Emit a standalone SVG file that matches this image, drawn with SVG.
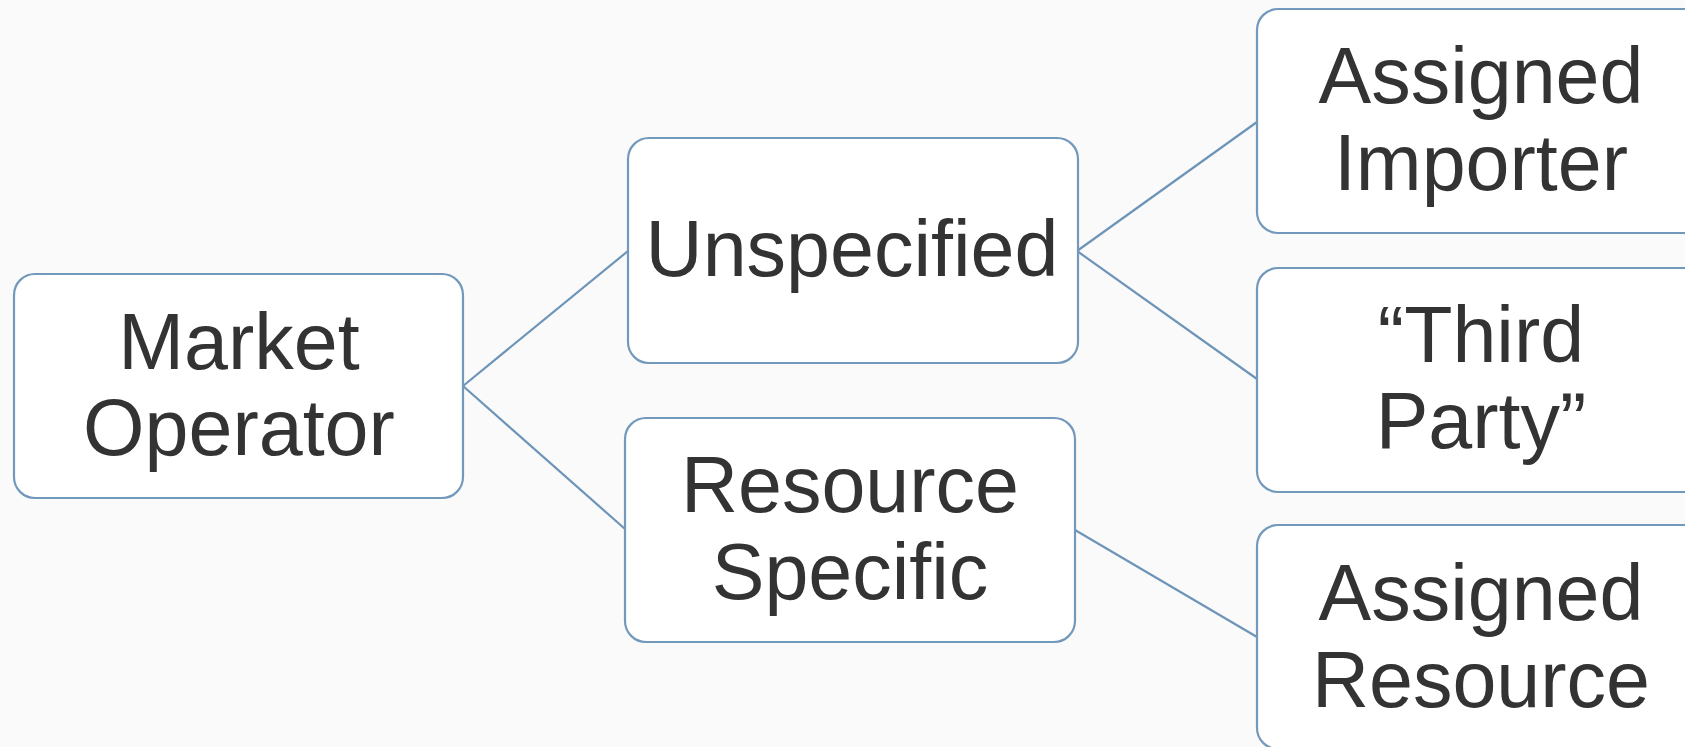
<svg xmlns="http://www.w3.org/2000/svg" width="1685" height="747" viewBox="0 0 1685 747">
<style>
.box{fill:#ffffff;stroke:#7298bc;stroke-width:2.2}
.lbl{font-family:"Liberation Sans",Arial,sans-serif;font-size:79px;fill:#333333;text-anchor:middle}
.conn{stroke:#6e94b8;stroke-width:2.2;fill:none}
</style>
<rect x="0" y="0" width="1685" height="747" fill="#fafafa"/>
<g id="connectors">
<line class="conn" x1="463" y1="386" x2="628" y2="251"/>
<line class="conn" x1="463" y1="386" x2="625" y2="529"/>
<line class="conn" x1="1077" y1="251" x2="1257" y2="122"/>
<line class="conn" x1="1077" y1="251" x2="1257" y2="379"/>
<line class="conn" x1="1075" y1="530" x2="1257" y2="637"/>
</g>
<g id="market-operator">
<rect class="box" x="14" y="274" width="449" height="224" rx="21"/>
<text class="lbl" x="239" y="369">Market</text>
<text class="lbl" x="239" y="455">Operator</text>
</g>
<g id="unspecified">
<rect class="box" x="628" y="138" width="450" height="225" rx="21"/>
<text class="lbl" x="852" y="276">Unspecified</text>
</g>
<g id="resource-specific">
<rect class="box" x="625" y="418" width="450" height="224" rx="21"/>
<text class="lbl" x="850" y="512">Resource</text>
<text class="lbl" x="850" y="599">Specific</text>
</g>
<g id="assigned-importer">
<rect class="box" x="1257" y="9" width="450" height="224" rx="21"/>
<text class="lbl" x="1481" y="103">Assigned</text>
<text class="lbl" x="1481" y="190">Importer</text>
</g>
<g id="third-party">
<rect class="box" x="1257" y="268" width="450" height="224" rx="21"/>
<text class="lbl" x="1481" y="362">“Third</text>
<text class="lbl" x="1481" y="448">Party”</text>
</g>
<g id="assigned-resource">
<rect class="box" x="1257" y="525" width="450" height="224" rx="21"/>
<text class="lbl" x="1481" y="620">Assigned</text>
<text class="lbl" x="1481" y="707">Resource</text>
</g>
</svg>
